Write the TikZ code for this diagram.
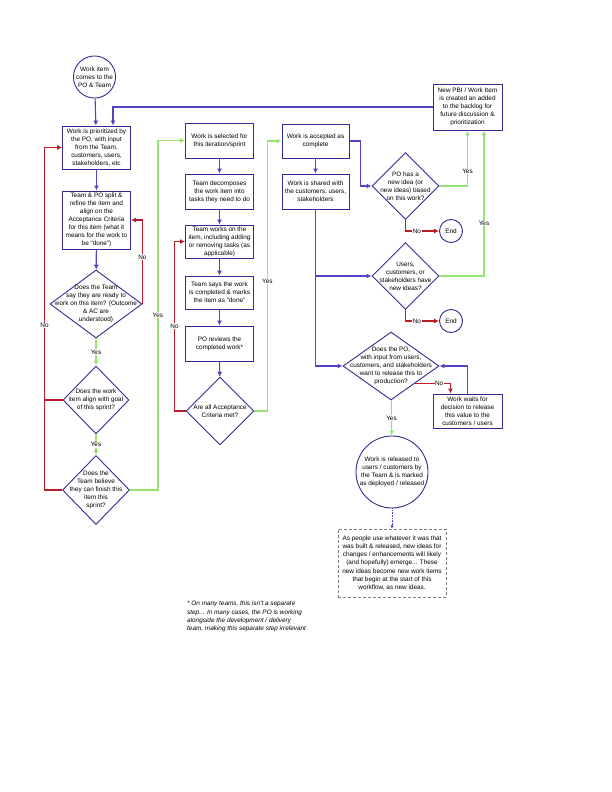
\documentclass[tikz,border=0pt]{standalone}
\usepackage{xcolor}
\usepackage{fontspec}
\setmainfont{Liberation Sans}
\usepackage{tikz}
\usetikzlibrary{shapes.geometric,arrows.meta}
\definecolor{boxblue}{RGB}{52, 42, 150}
\definecolor{flowblue}{RGB}{78, 68, 196}
\definecolor{yesgreen}{RGB}{150, 228, 110}
\definecolor{nored}{RGB}{185, 30, 40}
\definecolor{notegray}{RGB}{125, 125, 125}

\begin{document}
\begin{tikzpicture}[x=1pt, y=-1pt,
	font=\fontsize{6.4}{8.1}\selectfont,
	box/.style={draw=boxblue, line width=0.9pt, fill=white, align=center, inner sep=1pt, minimum width=68pt},
	dec/.style={draw=boxblue, line width=0.9pt, shape=diamond, inner sep=0pt},
	dectext/.style={align=center, inner sep=0pt},
	endnode/.style={draw=boxblue, line width=0.9pt, circle, minimum size=23pt, inner sep=0pt},
	flow/.style={draw=flowblue, line width=1.1pt, -{Latex[length=5pt,width=5pt]}},
	yes/.style={draw=yesgreen, line width=1.1pt, -{Latex[length=5pt,width=5pt]}},
	no/.style={draw=nored, line width=1.1pt, -{Latex[length=5pt,width=5pt]}},
	lbl/.style={fill=white, inner sep=0.6pt, text=black}]
			\pgfmathsetmacro{\xa}{96.5}
			\pgfmathsetmacro{\xb}{219.5}
			\pgfmathsetmacro{\xc}{315.5}
			\pgfmathsetmacro{\xd}{405.5}
			\pgfmathsetmacro{\xe}{467.5}
			\useasboundingbox (0,0) rectangle (612,792);
			% first column: from new work item to the sprint decision
			\node[circle, draw=boxblue, line width=0.9pt, minimum size=42pt, inner sep=0pt, align=center] (start) at (94.5,77) {Work item\\comes to the\\PO \& Team};
			\node[box, minimum height=43pt] (prio) at (\xa,147.5) {Work is prioritized by\\the PO, with input\\from the Team,\\customers, users,\\stakeholders, etc};
			\node[box, minimum height=58pt] (refine) at (\xa,220) {Team \& PO split \&\\refine the item and\\align on the\\Acceptance Criteria\\for this item (what it\\means for the work to\\be “done”)};
			\node[dec, minimum width=92pt, minimum height=68pt, label={[dectext]center:{Does the Team\\say they are ready to\\work on this item? (Outcome\\\& AC are\\understood)}}] (ready) at (96,304) {};
			\node[dec, minimum width=66pt, minimum height=68pt, label={[dectext]center:{Does the work\\item align with goal\\of this sprint?}}] (align) at (96,400) {};
			\node[dec, minimum width=67pt, minimum height=69pt, label={[dectext]center:{Does the\\Team believe\\they can finish this\\item this\\sprint?}}] (believe) at (96,490) {};
			% second column: the sprint
			\node[box, minimum height=35pt] (selected) at (\xb,140.5) {Work is selected for\\this iteration/sprint};
			\node[box, minimum height=35pt] (decompose) at (\xb,191.5) {Team decomposes\\the work item into\\tasks they need to do};
			\node[box, minimum height=33pt] (works) at (\xb,241.5) {Team works on the\\item, including adding\\or removing tasks (as\\applicable)};
			\node[box, minimum height=33pt] (says) at (\xb,292.5) {Team says the work\\is completed \& marks\\the item as "done"};
			\node[box, minimum height=35pt] (review) at (\xb,343.5) {PO reviews the\\completed work*};
			\node[dec, minimum width=68pt, minimum height=68pt, label={[dectext]center:{Are all Acceptance\\Criteria met?}}] (criteria) at (220,411) {};
			% third column: after the work is done
			\node[box, minimum width=67pt, minimum height=34pt] (accepted) at (\xc,141) {Work is accepted as\\complete};
			\node[box, minimum width=67pt, minimum height=35pt] (shared) at (\xc,191.5) {Work is shared with\\the customers, users,\\stakeholders};
			\node[dec, minimum width=67pt, minimum height=67pt, label={[dectext]center:{PO has a\\new idea (or\\new ideas) based\\on this work?}}] (newidea) at (\xd,186) {};
			\node[dec, minimum width=67pt, minimum height=67pt, label={[dectext]center:{Users,\\customers, or\\stakeholders have\\new ideas?}}] (users) at (\xd,276) {};
			\node[endnode] (end1) at (451,231) {End};
			\node[endnode] (end2) at (451,321) {End};
			\node[box, minimum width=69pt, minimum height=46pt] (pbi) at (\xe,107) {New PBI / Work Item\\is created an added\\to the backlog for\\future discussion \&\\prioritization};
			\node[dec, minimum width=96pt, minimum height=68pt, label={[dectext]center:{Does the PO,\\with input from users,\\customers, and stakeholders\\want to release this to\\production?}}] (release) at (391,366) {};
			\node[box, minimum width=69pt, minimum height=34pt] (wait) at (\xe,411) {Work waits for\\decision to release\\this value to the\\customers / users};
			\node[circle, draw=boxblue, line width=0.9pt, minimum size=72pt, inner sep=0pt, label={[dectext]center:{Work is released to\\users / customers by\\the Team \& is marked\\as deployed / released}}] (released) at (392,472) {};
			\node[draw=notegray, densely dashed, line width=0.5pt, align=center, minimum width=108pt, minimum height=68pt, inner sep=1pt] (note) at (392,563) {As people use whatever it was that\\was built \& released, new ideas for\\changes / enhancements will likely\\(and hopefully) emerge... These\\new ideas become new work items\\that begin at the start of this\\workflow, as new ideas.};
			\node[anchor=north west, align=left, inner sep=0pt, font=\fontsize{6.4}{8.2}\selectfont\itshape] (foot) at (187,601) {* On many teams, this isn't a separate\\step... In many cases, the PO is working\\alongside the development / delivery\\team, making this separate step irrelevant};
			% connectors
			\draw[flow] (start) -- (prio);
			\draw[flow] (pbi.west) -| ([xshift=16.5pt]prio.north);
			\draw[flow] (prio) -- (refine);
			\draw[flow] (refine) -- (ready);
			\draw[no] (ready.east) |- node[pos=0.28, lbl]{No} (refine.east);
			\draw[yes] (ready) -- node[lbl]{Yes} (align);
			\draw[yes] (align) -- node[lbl]{Yes} (believe);
			\draw[no] (align.west) -- ++(-18,0) |- (prio.west);
			\draw[no] (believe.west) -- ++(-17.5,0) |- node[pos=0.24, lbl]{No} (prio.west);
			\draw[yes] (believe.east) -- ++(28,0) |- node[pos=0.25, lbl]{Yes} (selected.west);
			\foreach \a/\b in {selected/decompose, decompose/works, works/says, says/review, review/criteria}
				\draw[flow] (\a) -- (\b);
			\draw[no] (criteria.west) -- ++(-11,0) |- node[pos=0.25, lbl]{No} (works.west);
			\draw[yes] (criteria.east) -- ++(13,0) |- node[pos=0.24, lbl]{Yes} (accepted.west);
			\draw[flow] (accepted) -- (shared);
			\draw[flow] (accepted.east) -- ++(11,0) |- (newidea.west);
			\draw[flow] (shared.south) |- (release.west);
			\draw[flow] (shared.south |- users.west) -- (users.west);
			\draw[yes] (newidea.east) -| node[pos=0.63, lbl]{Yes} (pbi.south);
			\draw[yes] (users.east) -| node[pos=0.68, lbl]{Yes} ([xshift=16.5pt]pbi.south);
			\draw[no] (newidea.south) |- node[pos=0.67, lbl]{No} (end1.west);
			\draw[no] (users.south) |- node[pos=0.67, lbl]{No} (end2.west);
			\draw[no] (release.south east) -| node[pos=0.34, lbl]{No} ([xshift=-17pt]wait.north);
			\draw[flow] (wait.north) |- (release.east);
			\draw[yes] (release) -- node[lbl]{Yes} (released);
			\draw[draw=flowblue, densely dotted, line width=0.6pt, -{Latex[length=3.5pt,width=3.5pt]}] (released) -- (note);
		\end{tikzpicture}
\end{document}
